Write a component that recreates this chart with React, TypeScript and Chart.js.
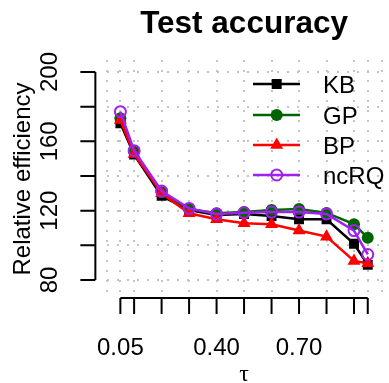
import React, { useEffect, useRef } from "react";
import { Chart, registerables } from "chart.js";

Chart.register(...registerables);

// ---- data ----
const tau = [0.05, 0.1, 0.2, 0.3, 0.4, 0.5, 0.6, 0.7, 0.8, 0.9, 0.95];
const kb = [170.4, 152.3, 128.5, 120.4, 117.5, 118.1, 116.9, 115.0, 115.0, 100.9, 88.7];
const gp = [173.3, 154.0, 130.6, 121.0, 118.5, 119.2, 120.4, 121.0, 118.7, 112.2, 104.3];
const bp = [172.3, 152.7, 130.0, 118.5, 115.0, 112.7, 112.1, 108.5, 105.0, 91.0, 89.6];
const ncrq = [177.1, 154.6, 131.3, 121.3, 118.1, 118.8, 119.2, 119.2, 118.1, 108.5, 94.7];

const seriesNames = ["KB", "GP", "BP", "ncRQ"];
const xGridVals = [0, 0.05, 0.1, 0.2, 0.3, 0.4, 0.5, 0.6, 0.7, 0.8, 0.9, 0.95, 1.0];
const yGridVals = [80, 100, 120, 140, 160, 180, 200];
const yAxisTicks = [80, 100, 120, 140, 160, 180, 200];
const yTickLabels = ["80", "120", "160", "200"];
const yTickLabelVals = [80, 120, 160, 200];
const xTickLabels = ["0.05", "0.40", "0.70"];
const xTickLabelVals = [0.05, 0.4, 0.7];
const titleText = "Test accuracy";
const yTitle = "Relative efficiency";
const xTitle = "τ";

const FONT = "'Liberation Sans', Arial, Helvetica, sans-serif";

const colors = ["#000000", "#006400", "#ff0000", "#a020f0"];
const styles = ["rect", "circle", "triangle", "circle"];

function drawMarker(ctx: CanvasRenderingContext2D, kind: number, x: number, y: number) {
  const c = colors[kind];
  ctx.save();
  ctx.fillStyle = c;
  ctx.strokeStyle = c;
  ctx.beginPath();
  if (kind === 0) {
    ctx.rect(x - 5, y - 5, 10, 10);
    ctx.fill();
  } else if (kind === 1) {
    ctx.arc(x, y, 6, 0, Math.PI * 2);
    ctx.fill();
  } else if (kind === 2) {
    const r = 7.5;
    ctx.moveTo(x, y - r);
    ctx.lineTo(x + r * Math.cos(Math.PI / 6), y + r * 0.5);
    ctx.lineTo(x - r * Math.cos(Math.PI / 6), y + r * 0.5);
    ctx.closePath();
    ctx.fill();
  } else {
    ctx.lineWidth = 2;
    ctx.arc(x, y, 5.5, 0, Math.PI * 2);
    ctx.stroke();
  }
  ctx.restore();
}

const decorPlugin = {
  id: "decor",
  afterDraw(chart: any) {
    const ctx: CanvasRenderingContext2D = chart.ctx;
    const xs = chart.scales.x;
    const ys = chart.scales.y;
    const area = chart.chartArea;
    ctx.save();
    ctx.fillStyle = "#000";
    ctx.strokeStyle = "#000";
    ctx.lineWidth = 2;
    ctx.lineCap = "butt";

    // y axis
    const yAxisX = xs.getPixelForValue(-0.041);
    const yTop = ys.getPixelForValue(yAxisTicks[yAxisTicks.length - 1]);
    const yBot = ys.getPixelForValue(yAxisTicks[0]);
    ctx.beginPath();
    ctx.moveTo(yAxisX, yTop);
    ctx.lineTo(yAxisX, yBot);
    for (const v of yAxisTicks) {
      const py = ys.getPixelForValue(v);
      ctx.moveTo(yAxisX, py);
      ctx.lineTo(yAxisX - 15, py);
    }
    ctx.stroke();

    // x axis
    const xAxisY = area.bottom;
    const xL = xs.getPixelForValue(tau[0]);
    const xR = xs.getPixelForValue(tau[tau.length - 1]);
    ctx.beginPath();
    ctx.moveTo(xL, xAxisY);
    ctx.lineTo(xR, xAxisY);
    for (const v of tau) {
      const px = xs.getPixelForValue(v);
      ctx.moveTo(px, xAxisY);
      ctx.lineTo(px, xAxisY + 16);
    }
    ctx.stroke();

    // x tick labels
    ctx.font = `24px ${FONT}`;
    ctx.textAlign = "center";
    ctx.textBaseline = "alphabetic";
    xTickLabels.forEach((t, i) => {
      ctx.fillText(t, xs.getPixelForValue(xTickLabelVals[i]), 355);
    });
    // x title (symbol-like serif tau)
    ctx.font = `24px 'Liberation Serif', 'DejaVu Serif', serif`;
    ctx.fillText(xTitle, (area.left + area.right) / 2, 381);

    // y tick labels (rotated)
    ctx.font = `24px ${FONT}`;
    yTickLabels.forEach((t, i) => {
      const py = ys.getPixelForValue(yTickLabelVals[i]);
      ctx.save();
      ctx.translate(57, py);
      ctx.rotate(-Math.PI / 2);
      ctx.fillText(t, 0, 0);
      ctx.restore();
    });
    // y title
    ctx.save();
    ctx.translate(30, (area.top + area.bottom) / 2);
    ctx.rotate(-Math.PI / 2);
    ctx.fillText(yTitle, 0, 0);
    ctx.restore();

    // title
    ctx.font = `bold 31.5px ${FONT}`;
    ctx.fillText(titleText, (area.left + area.right) / 2, 33);

    // legend
    const rowsY = [84, 115, 145, 175];
    ctx.font = `24px ${FONT}`;
    ctx.textAlign = "left";
    seriesNames.forEach((name, i) => {
      const y = rowsY[i];
      ctx.strokeStyle = colors[i];
      ctx.lineWidth = 2.5;
      ctx.beginPath();
      ctx.moveTo(253, y);
      ctx.lineTo(300, y);
      ctx.stroke();
      drawMarker(ctx, i, 276.7, y);
      ctx.fillStyle = "#000";
      ctx.fillText(name, 323, y + 8.6);
    });
    ctx.restore();
  },
};

export default function App() {
  const ref = useRef<HTMLCanvasElement | null>(null);
  useEffect(() => {
    document.body.style.margin = "0";
    const canvas = ref.current!;
    const all = [kb, gp, bp, ncrq];
    const orders = [4, 3, 2, 1];
    const radii = [7, 6, 7.5, 5.5];
    const datasets = all.map((vals, i) => ({
      label: seriesNames[i],
      data: tau.map((t, j) => ({ x: t, y: vals[j] })),
      borderColor: colors[i],
      backgroundColor: i === 3 ? "rgba(0,0,0,0)" : colors[i],
      pointBackgroundColor: i === 3 ? "rgba(0,0,0,0)" : colors[i],
      pointBorderColor: colors[i],
      pointBorderWidth: i === 3 ? 2 : 0,
      pointStyle: styles[i],
      pointRadius: radii[i],
      borderWidth: 2.5,
      showLine: true,
      tension: 0,
      order: orders[i],
    }));
    const chart = new Chart(canvas, {
      type: "scatter",
      data: { datasets },
      options: {
        animation: false,
        responsive: false,
        devicePixelRatio: 1,
        layout: { padding: { top: 60, bottom: 85, left: 106.63, right: 0.93 } },
        plugins: { legend: { display: false }, title: { display: false }, tooltip: { enabled: false } },
        scales: {
          x: {
            type: "linear",
            min: 0,
            max: 1,
            ticks: { display: false },
            border: { display: false, dash: [2, 8] },
            grid: { color: "#c4c4c4", lineWidth: 2, drawTicks: false },
            afterBuildTicks: (s: any) => {
              s.ticks = xGridVals.map((v) => ({ value: v }));
            },
          },
          y: {
            type: "linear",
            min: 69.6,
            max: 206.92,
            ticks: { display: false },
            border: { display: false, dash: [2, 8] },
            grid: { color: "#c4c4c4", lineWidth: 2, drawTicks: false },
            afterBuildTicks: (s: any) => {
              s.ticks = yGridVals.map((v) => ({ value: v }));
            },
          },
        },
      } as any,
      plugins: [decorPlugin],
    });
    return () => chart.destroy();
  }, []);
  return (
    <div style={{ width: 389, height: 383, background: "#fff" }}>
      <canvas ref={ref} width={389} height={383} style={{ display: "block" }} />
    </div>
  );
}
